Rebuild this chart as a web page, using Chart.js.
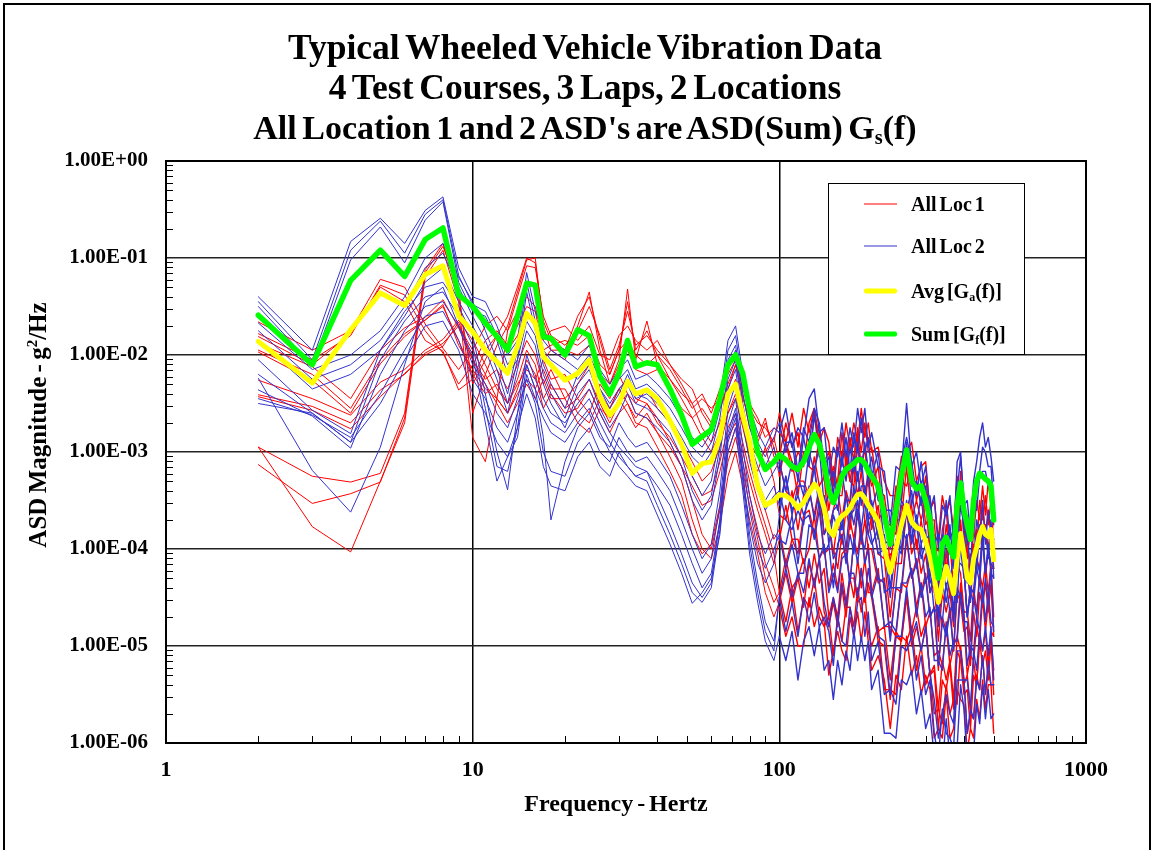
<!DOCTYPE html>
<html lang="en">
<head>
<meta charset="UTF-8">
<title>Typical Wheeled Vehicle Vibration Data</title>
<style>
    body {
        margin: 0;
        background: #fff;
        font-family: "Liberation Serif", "Times New Roman", serif;
        color: #000;
    }
    #wrap {
        position: relative;
        width: 1154px;
        height: 850px;
        overflow: hidden;
    }
    #frame {
        position: absolute;
        left: 3px;
        top: 3px;
        width: 1144px;
        height: 900px;
        border: 2px solid #000;
    }
    canvas {
        position: absolute;
        left: 0;
        top: 0;
    }
    .title {
        position: absolute;
        left: 0;
        top: 27px;
        width: 1170px;
        text-align: center;
        font-weight: bold;
        font-size: 35.5px;
        line-height: 40px;
        word-spacing: -3px;
    }
    .title .l3 { font-size: 34px; }
    .title sub, .legend sub {
        font-size: 60%;
        vertical-align: -0.25em;
    }
    .ytitle {
        position: absolute;
        left: 38px;
        top: 425px;
        transform: translate(-50%, -50%) rotate(-90deg);
        white-space: nowrap;
        font-weight: bold;
        font-size: 25px;
        word-spacing: -2px;
    }
    .ytitle sup {
        font-size: 60%;
        vertical-align: 0.6em;
        line-height: 0;
    }
    .xtitle {
        position: absolute;
        left: 616px;
        top: 803px;
        transform: translate(-50%, -50%);
        white-space: nowrap;
        font-weight: bold;
        font-size: 24px;
        word-spacing: -2px;
    }
    .legend {
        position: absolute;
        left: 828px;
        top: 183px;
        width: 195px;
        height: 170px;
        border: 1.5px solid #000;
        background: #fff;
    }
    .legend .row {
        position: absolute;
        left: 0;
        width: 195px;
        height: 24px;
    }
    .legend .swatch {
        position: absolute;
        left: 35px;
        width: 33px;
        top: 50%;
        transform: translateY(-50%);
    }
    .legend .label {
        position: absolute;
        left: 82px;
        top: 0;
        line-height: 24px;
        font-weight: bold;
        font-size: 20px;
        white-space: nowrap;
        word-spacing: -2px;
    }
</style>
</head>
<body>
<div id="wrap">
    <canvas id="asdChart" width="1154" height="850"></canvas>
    <div id="frame"></div>
    <div class="title">
        Typical Wheeled Vehicle Vibration Data<br>
        4 Test Courses, 3 Laps, 2 Locations<br>
        <span class="l3">All Location 1 and 2 ASD's are ASD(Sum) G<sub>s</sub>(f)</span>
    </div>
    <div class="ytitle">ASD Magnitude - g<sup>2</sup>/Hz</div>
    <div class="xtitle">Frequency - Hertz</div>
    <div class="legend">
        <div class="row" style="top:8px"><span class="swatch" style="height:1px;background:#ff0000"></span><span class="label">All Loc 1</span></div>
        <div class="row" style="top:50px"><span class="swatch" style="height:1px;background:#3333cc"></span><span class="label">All Loc 2</span></div>
        <div class="row" style="top:95px"><span class="swatch" style="height:5px;background:#ffff00;border-radius:2px"></span><span class="label">Avg [G<sub>a</sub>(f)]</span></div>
        <div class="row" style="top:138px"><span class="swatch" style="height:5px;background:#00ff00;border-radius:2px"></span><span class="label">Sum [G<sub>f</sub>(f)]</span></div>
    </div>
</div>

<script src="https://cdn.jsdelivr.net/npm/chart.js"></script>
<script>
// frequency lines (Hz): 40 lines up to 96 Hz, then 51 lines from 100 to 500 Hz
const freqLow = [2,3,4,5,6,7,8,9,10, 11,12,13,14,15,16,17,18, 20,22,24,26,28,30,32,34,
    37,40,44,48,52,56,60,64,68, 72,76,80,85,90,96];
const freqHigh = [100,105,110,115,120,125,130,135,140,145,150,155,160,165,170,175,180,185,190,195,
    200,210,220,230,240,250,260,270,280,290,300,310,320,330,340,350,360,370,380,390,
    400,410,420,430,440,450,460,470,480,490,500];
const freqHz = freqLow.concat(freqHigh);

const xTicks = [1, 10, 100, 1000];
const yTicks = [1e-6, 1e-5, 1e-4, 1e-3, 1e-2, 1e-1, 1];

// values are log10 of ASD (g^2/Hz); each lap = [low part, high part]
// Location 1, 4 courses x 3 laps
const loc1CourseA = [
    [[-2.95,-3.25,-3.31,-3.22,-2.60,-1.12,-0.85,-1.40,-2.30, -2.05,-1.80,-1.60,-1.30,-1.00,-1.05,-1.65,-1.85, -1.95,-1.60,-1.40,-1.85,-2.20,-1.95,-1.45,-1.95,
      -1.75,-2.00,-2.15,-2.35,-2.55,-2.45,-2.55,-2.45,-2.20, -2.05,-2.35,-2.55,-2.70,-2.75,-2.90],
     [-2.60,-2.90,-2.60,-2.95,-2.55,-2.80,-2.55,-2.90,-2.75,-2.90,-3.30,-2.85,-3.05,-2.70,-2.95,-2.70,-2.90,-2.55,-2.85,-2.70,
      -3.00,-2.95,-3.30,-3.45,-3.45,-3.05,-3.00,-2.90,-3.30,-3.15,-3.10,-3.60,-3.50,-3.90,-3.45,-3.65,-3.50,-3.80,-3.25,-3.40,
      -3.60,-4.10,-3.80,-3.85,-3.50,-3.70,-3.35,-3.65,-3.30,-3.55,-3.70]],
    [[-3.13,-3.53,-3.43,-3.31,-2.65,-1.15,-0.88,-1.30,-2.60, -2.20,-1.90,-1.70,-1.35,-1.02,-1.00,-1.70,-1.95, -2.05,-1.70,-1.35,-1.95,-2.30,-2.05,-1.32,-2.05,
      -1.65,-2.10,-2.25,-2.45,-2.65,-2.55,-2.70,-2.55,-2.30, -2.10,-2.45,-2.65,-2.85,-2.65,-3.05],
     [-3.05,-2.70,-2.95,-2.80,-3.15,-2.70,-2.55,-2.95,-3.10,-3.00,-3.35,-3.30,-2.80,-3.15,-2.85,-3.10,-2.75,-3.00,-2.70,-3.00,
      -2.95,-3.40,-3.45,-3.90,-3.35,-3.50,-2.95,-3.35,-3.30,-3.55,-3.25,-3.70,-3.70,-4.30,-3.80,-3.60,-4.05,-3.90,-3.80,-3.20,
      -3.95,-3.90,-4.30,-3.80,-4.00,-3.50,-3.70,-3.45,-3.75,-3.50,-3.95]],
    [[-2.95,-3.77,-4.03,-3.30,-2.70,-1.20,-0.92,-1.45,-2.85, -3.10,-2.45,-1.75,-1.40,-1.08,-1.10,-1.60,-1.80, -1.90,-1.75,-1.50,-1.80,-2.15,-1.90,-1.55,-1.90,
      -1.80,-1.95,-2.10,-2.30,-2.50,-2.40,-2.60,-2.35,-2.15, -2.00,-2.30,-2.50,-2.65,-2.85,-2.75],
     [-2.80,-2.90,-3.20,-3.00,-3.10,-3.05,-2.65,-2.80,-3.30,-3.35,-3.15,-3.35,-3.05,-3.00,-3.30,-3.05,-2.80,-3.15,-2.95,-3.20,
      -3.35,-3.15,-3.75,-3.75,-3.85,-3.30,-3.35,-3.15,-3.50,-3.30,-3.75,-3.65,-4.05,-4.00,-4.15,-3.75,-4.05,-3.95,-3.95,-3.40,
      -3.80,-4.30,-4.05,-4.15,-3.80,-3.95,-3.55,-3.85,-3.60,-3.85,-3.90]]
];
const loc1CourseB = [
    [[-1.66,-1.95,-1.75,-1.22,-1.30,-1.68,-1.93,-2.15,-1.95, -1.70,-1.60,-1.75,-1.55,-1.40,-1.50,-1.85,-1.75, -1.70,-1.85,-1.70,-2.00,-2.05,-1.80,-1.70,-1.85,
      -1.95,-1.85,-2.10,-2.25,-2.35,-2.60,-2.75,-2.55,-2.35, -2.10,-2.40,-2.75,-2.90,-2.70,-2.95],
     [-3.25,-2.90,-3.10,-3.45,-3.00,-3.15,-3.20,-2.85,-3.15,-3.60,-3.30,-3.45,-3.45,-3.05,-3.30,-3.35,-2.95,-3.20,-2.95,-3.35,
      -3.25,-3.70,-3.60,-4.15,-3.70,-3.70,-3.15,-3.70,-3.50,-3.70,-3.50,-4.05,-3.95,-4.45,-3.95,-4.20,-3.95,-4.40,-3.80,-3.75,
      -4.25,-4.20,-4.50,-3.95,-4.15,-3.75,-4.00,-3.75,-4.00,-3.75,-4.20]],
    [[-1.78,-2.05,-1.80,-1.28,-1.38,-1.75,-1.98,-2.30,-2.10, -1.85,-1.75,-1.90,-1.70,-1.50,-1.55,-1.95,-1.90, -1.85,-1.90,-1.80,-2.10,-2.20,-1.95,-1.85,-2.00,
      -2.10,-2.00,-2.25,-2.40,-2.50,-2.75,-2.90,-2.70,-2.45, -2.25,-2.55,-2.90,-3.05,-3.00,-2.85],
     [-3.10,-3.40,-3.50,-3.30,-3.30,-3.45,-3.05,-3.35,-3.25,-3.80,-3.60,-3.40,-3.70,-3.40,-3.55,-3.15,-3.45,-3.20,-3.55,-3.25,
      -3.80,-3.55,-4.10,-4.05,-4.15,-3.55,-3.65,-3.55,-4.00,-3.70,-4.00,-3.90,-4.45,-4.40,-4.45,-4.00,-4.50,-4.30,-4.20,-3.70,
      -4.20,-4.70,-4.40,-4.45,-4.10,-4.20,-3.85,-4.30,-4.00,-4.20,-4.20]],
    [[-1.81,-2.10,-1.78,-1.30,-1.45,-1.85,-1.96,-2.36,-2.25, -1.95,-1.80,-1.95,-1.80,-1.60,-1.70,-2.05,-1.95, -1.95,-2.00,-1.90,-2.20,-2.30,-2.10,-1.95,-2.15,
      -2.20,-2.15,-2.35,-2.55,-2.65,-2.85,-3.00,-2.80,-2.60, -2.40,-2.70,-3.00,-3.20,-2.95,-3.30],
     [-3.65,-3.70,-3.40,-3.80,-3.45,-3.40,-3.65,-3.35,-3.85,-3.70,-4.05,-3.70,-3.95,-3.60,-3.80,-3.40,-3.70,-3.40,-3.70,-3.85,
      -3.65,-4.05,-4.10,-4.70,-4.15,-4.15,-3.60,-4.05,-3.90,-4.25,-4.05,-4.45,-4.35,-4.95,-4.45,-4.65,-4.45,-4.80,-4.15,-4.25,
      -4.65,-4.65,-4.95,-4.40,-4.65,-4.25,-4.40,-4.15,-4.45,-4.15,-4.70]]
];
const loc1CourseC = [
    [[-1.88,-2.12,-2.45,-1.95,-1.72,-1.61,-1.43,-1.72,-2.05, -2.25,-2.15,-2.35,-2.10,-1.85,-2.00,-2.30,-2.15, -2.45,-2.30,-2.10,-2.40,-2.55,-2.35,-2.25,-2.45,
      -2.50,-2.65,-2.90,-3.15,-3.50,-3.85,-4.00,-3.60,-3.10, -2.85,-3.20,-3.55,-3.90,-4.30,-4.55],
     [-4.45,-4.75,-4.40,-4.85,-4.50,-4.60,-4.30,-4.70,-4.80,-4.70,-5.10,-4.70,-4.95,-4.60,-4.60,-4.80,-4.40,-4.65,-4.45,-4.85,
      -5.00,-4.80,-5.45,-5.45,-5.50,-4.90,-4.95,-4.80,-5.25,-5.00,-5.40,-5.25,-5.70,-5.65,-5.80,-5.40,-5.70,-5.55,-5.60,-5.00,
      -5.35,-5.90,-5.70,-5.75,-5.30,-5.45,-5.10,-5.50,-5.25,-5.40,-5.40]],
    [[-1.95,-2.20,-2.55,-2.05,-1.78,-1.64,-1.50,-1.85,-2.20, -2.40,-2.30,-2.50,-2.25,-1.95,-2.10,-2.45,-2.30, -2.55,-2.45,-2.25,-2.50,-2.70,-2.50,-2.40,-2.60,
      -2.65,-2.80,-3.05,-3.30,-3.70,-4.00,-4.10,-3.75,-3.25, -3.00,-3.35,-3.70,-4.05,-4.45,-4.70],
     [-4.55,-4.25,-4.55,-4.30,-4.60,-4.15,-4.35,-4.10,-4.65,-4.80,-4.55,-4.80,-4.40,-4.70,-4.30,-4.30,-4.55,-4.20,-4.55,-4.35,
      -4.50,-4.95,-5.00,-5.55,-4.90,-4.95,-4.50,-5.00,-4.80,-5.05,-4.80,-5.30,-5.25,-5.85,-5.35,-5.45,-5.20,-5.65,-5.05,-5.15,
      -5.50,-5.45,-5.85,-5.30,-5.40,-4.95,-5.20,-5.05,-5.35,-4.95,-5.50]],
    [[-1.97,-2.26,-2.60,-2.09,-1.81,-1.64,-1.48,-1.90,-2.15, -2.35,-2.45,-2.60,-2.35,-2.05,-2.20,-2.55,-2.40, -2.60,-2.55,-2.35,-2.60,-2.80,-2.60,-2.50,-2.70,
      -2.75,-2.95,-3.20,-3.45,-3.85,-4.05,-3.95,-3.55,-3.00, -2.75,-3.10,-3.45,-3.80,-4.15,-4.40],
     [-4.60,-4.90,-4.70,-5.00,-5.00,-4.50,-4.80,-4.60,-4.75,-5.30,-5.05,-4.85,-5.05,-5.15,-4.70,-4.90,-4.65,-4.95,-4.65,-4.95,
      -5.25,-5.10,-5.35,-5.85,-5.30,-5.45,-4.90,-5.30,-5.10,-5.50,-5.30,-5.45,-5.95,-5.85,-5.95,-5.50,-5.95,-5.85,-5.45,-5.55,
      -5.60,-6.10,-5.85,-5.95,-5.55,-5.75,-5.35,-5.65,-5.40,-5.40,-5.90]]
];
const loc1CourseD = [
    [[-2.26,-2.45,-2.62,-2.28,-2.15,-1.95,-1.84,-1.64,-1.85, -2.10,-2.35,-2.50,-2.30,-2.15,-2.25,-2.05,-2.25, -2.20,-2.45,-2.60,-2.30,-2.45,-2.20,-2.40,-2.50,
      -2.35,-2.55,-2.70,-2.90,-3.10,-3.30,-3.20,-2.95,-2.60, -2.45,-2.75,-3.05,-3.35,-3.60,-3.90],
     [-3.80,-4.15,-3.90,-3.90,-4.15,-4.00,-3.65,-4.10,-4.00,-4.40,-4.15,-4.40,-4.05,-4.00,-4.35,-3.90,-4.05,-3.75,-4.15,-3.95,
      -4.45,-4.20,-4.80,-4.80,-4.90,-4.35,-4.40,-4.20,-4.60,-4.35,-4.80,-4.65,-5.10,-5.05,-5.20,-4.80,-5.20,-5.00,-4.90,-4.35,
      -4.75,-5.30,-5.10,-5.15,-4.80,-4.95,-4.50,-4.85,-4.55,-4.85,-4.90]],
    [[-2.41,-2.53,-2.70,-2.36,-2.20,-1.98,-1.88,-1.70,-1.95, -2.20,-2.45,-2.60,-2.40,-2.25,-2.35,-2.15,-2.35, -2.35,-2.60,-2.70,-2.45,-2.55,-2.35,-2.50,-2.65,
      -2.50,-2.70,-2.85,-3.05,-3.25,-3.45,-3.40,-3.10,-2.75, -2.60,-2.90,-3.20,-3.50,-3.75,-4.05],
     [-4.45,-4.10,-4.40,-4.30,-4.10,-4.40,-4.05,-4.35,-4.20,-4.70,-4.50,-4.70,-4.25,-4.55,-4.30,-4.50,-4.10,-4.40,-4.10,-4.45,
      -4.45,-4.85,-4.80,-5.35,-4.85,-4.95,-4.45,-4.85,-4.60,-4.90,-4.75,-5.30,-5.20,-5.65,-5.15,-5.35,-5.15,-5.55,-4.90,-5.05,
      -5.40,-5.30,-5.65,-5.15,-5.40,-4.90,-5.05,-4.85,-5.20,-4.90,-5.25]],
    [[-2.43,-2.57,-2.76,-2.43,-2.19,-2.00,-1.91,-1.66,-2.05, -2.30,-2.50,-2.70,-2.50,-2.30,-2.45,-2.25,-2.45, -2.45,-2.70,-2.80,-2.55,-2.65,-2.45,-2.60,-2.75,
      -2.60,-2.80,-2.95,-3.15,-3.35,-3.55,-3.50,-3.20,-2.85, -2.70,-3.00,-3.30,-3.60,-3.85,-4.15],
     [-3.90,-3.55,-3.90,-4.05,-3.65,-3.60,-3.85,-3.50,-4.05,-4.00,-4.00,-4.20,-3.85,-4.10,-3.70,-3.90,-3.60,-3.95,-3.70,-4.00,
      -4.00,-4.35,-4.30,-4.90,-4.40,-4.45,-3.90,-4.30,-4.10,-4.45,-4.25,-4.70,-4.60,-5.25,-4.70,-4.85,-4.60,-5.05,-4.45,-4.55,
      -4.85,-4.80,-5.20,-4.65,-4.90,-4.45,-4.60,-4.35,-4.65,-4.35,-4.90]]
];

// Location 2, 4 courses x 3 laps
const loc2CourseA = [
    [[-1.40,-1.95,-0.83,-0.59,-0.85,-0.51,-0.37,-1.10,-1.40, -1.45,-1.70,-2.00,-1.85,-1.15,-1.55,-1.75,-1.85, -1.95,-2.05,-1.90,-2.15,-2.30,-2.15,-2.05,-2.25,
      -2.20,-2.30,-2.45,-2.65,-2.85,-2.95,-2.80,-2.45,-1.85, -1.70,-2.20,-2.55,-2.80,-2.95,-2.75],
     [-2.80,-2.55,-2.95,-2.75,-2.85,-2.45,-2.35,-2.80,-2.75,-3.25,-2.95,-3.05,-2.70,-3.05,-2.75,-2.95,-2.55,-2.80,-2.55,-2.95,
      -2.80,-3.15,-3.20,-3.75,-3.15,-3.20,-2.50,-3.15,-3.00,-3.35,-3.15,-3.60,-3.45,-4.00,-3.55,-3.65,-3.45,-3.95,-3.10,-3.00,
      -3.55,-3.50,-3.85,-3.30,-3.10,-2.85,-2.70,-2.95,-2.85,-3.05,-3.30]],
    [[-1.45,-2.05,-0.92,-0.62,-0.95,-0.55,-0.40,-1.18,-1.48, -1.55,-1.80,-2.10,-1.95,-1.25,-1.65,-1.85,-1.95, -2.05,-2.15,-2.00,-2.25,-2.40,-2.25,-2.15,-2.35,
      -2.30,-2.40,-2.55,-2.75,-2.95,-3.05,-2.90,-2.55,-1.95, -1.80,-2.30,-2.65,-2.90,-3.05,-2.85],
     [-2.70,-3.00,-2.80,-3.20,-2.75,-2.90,-2.55,-2.70,-3.15,-3.05,-3.45,-2.95,-3.15,-2.85,-3.20,-2.80,-3.00,-2.65,-3.00,-2.85,
      -3.25,-3.00,-3.60,-3.60,-3.70,-3.10,-2.85,-3.10,-3.45,-3.10,-3.50,-3.45,-3.95,-3.85,-3.95,-3.50,-3.90,-3.80,-3.40,-3.05,
      -3.50,-3.95,-3.75,-3.80,-3.35,-3.20,-2.95,-3.00,-3.15,-3.15,-3.55]],
    [[-1.50,-2.10,-1.02,-0.68,-1.05,-0.61,-0.42,-1.25,-1.55, -1.60,-1.85,-2.20,-2.05,-1.35,-1.75,-1.95,-2.05, -2.15,-2.25,-2.10,-2.35,-2.50,-2.35,-2.25,-2.45,
      -2.40,-2.50,-2.65,-2.85,-3.05,-3.15,-3.00,-2.65,-2.05, -1.90,-2.40,-2.75,-3.00,-3.15,-2.95],
     [-3.20,-2.90,-2.90,-3.30,-2.85,-3.15,-2.60,-3.05,-3.05,-3.45,-3.20,-3.45,-3.05,-3.30,-2.95,-3.20,-2.90,-3.20,-2.90,-3.20,
      -3.05,-3.50,-3.55,-4.00,-3.45,-3.50,-2.90,-3.55,-3.30,-3.55,-3.35,-3.90,-3.85,-4.40,-3.85,-3.95,-3.75,-4.20,-3.50,-3.35,
      -3.85,-3.85,-4.20,-3.60,-3.60,-3.25,-3.20,-3.20,-3.35,-3.40,-3.75]]
];
const loc2CourseB = [
    [[-1.67,-2.15,-2.00,-1.75,-1.40,-1.00,-0.85,-1.20,-1.45, -1.75,-2.05,-2.40,-1.95,-1.55,-1.70,-2.10,-2.30, -2.55,-2.20,-2.05,-2.35,-2.55,-2.40,-2.20,-2.40,
      -2.45,-2.55,-2.70,-2.95,-3.25,-3.45,-3.30,-2.85,-2.15, -1.95,-2.50,-2.90,-3.15,-3.35,-3.20],
     [-3.10,-3.40,-3.10,-3.25,-3.45,-3.00,-3.20,-2.95,-3.55,-3.45,-3.45,-3.60,-3.20,-3.50,-3.50,-3.05,-3.30,-3.05,-3.45,-3.20,
      -3.60,-3.35,-3.95,-3.90,-4.00,-3.50,-3.60,-3.40,-3.75,-3.45,-3.90,-3.85,-4.35,-4.25,-4.30,-3.85,-4.30,-4.10,-4.05,-3.55,
      -3.75,-4.35,-4.15,-4.15,-3.70,-3.85,-3.50,-3.95,-3.60,-3.80,-3.90]],
    [[-1.75,-2.25,-2.10,-1.85,-1.50,-1.10,-0.95,-1.30,-1.60, -1.85,-2.15,-2.50,-2.05,-1.65,-1.80,-2.20,-2.40, -2.65,-2.30,-2.15,-2.45,-2.65,-2.50,-2.30,-2.50,
      -2.55,-2.65,-2.80,-3.05,-3.40,-3.60,-3.45,-2.95,-2.25, -2.05,-2.60,-3.00,-3.30,-3.50,-3.35],
     [-3.55,-3.25,-3.65,-3.35,-3.35,-3.50,-3.15,-3.55,-3.45,-3.85,-3.60,-3.55,-3.80,-3.45,-3.65,-3.60,-3.20,-3.55,-3.35,-3.70,
      -3.50,-3.90,-3.85,-4.40,-3.90,-4.00,-3.50,-3.90,-3.65,-3.95,-3.80,-4.35,-4.25,-4.70,-4.20,-4.40,-4.25,-4.65,-3.95,-4.00,
      -4.30,-4.20,-4.55,-4.05,-4.25,-3.75,-3.95,-3.80,-4.10,-3.70,-4.30]],
    [[-1.85,-2.35,-2.20,-1.95,-1.60,-1.25,-1.10,-1.45,-1.70, -1.95,-2.25,-2.60,-2.15,-1.75,-1.90,-2.30,-2.50, -2.75,-2.40,-2.25,-2.55,-2.75,-2.60,-2.40,-2.60,
      -2.65,-2.75,-2.90,-3.15,-3.50,-3.70,-3.55,-3.05,-2.35, -2.15,-2.70,-3.10,-3.40,-3.60,-3.45],
     [-3.40,-3.70,-3.80,-3.60,-3.75,-3.35,-3.70,-3.40,-3.85,-3.75,-4.10,-4.00,-3.65,-4.00,-3.55,-3.75,-3.50,-3.80,-3.50,-3.85,
      -3.95,-3.80,-4.45,-4.40,-4.40,-3.80,-3.90,-3.75,-4.20,-3.95,-4.35,-4.20,-4.65,-4.60,-4.75,-4.35,-4.65,-4.55,-4.55,-3.90,
      -4.20,-4.70,-4.45,-4.55,-4.20,-4.35,-3.90,-4.25,-3.95,-4.25,-4.30]]
];
const loc2CourseC = [
    [[-2.05,-2.57,-2.81,-1.95,-1.55,-1.30,-1.25,-1.50,-1.80, -2.40,-3.00,-3.39,-2.60,-2.00,-2.25,-2.45,-2.60, -2.70,-2.50,-2.35,-2.60,-2.80,-2.95,-3.05,-3.15,
      -3.20,-3.45,-3.75,-4.05,-4.35,-4.50,-4.35,-3.70,-2.80, -2.55,-3.20,-3.85,-4.35,-4.75,-4.95],
     [-4.50,-4.85,-4.55,-4.90,-4.50,-4.75,-4.45,-4.80,-4.70,-4.85,-5.20,-4.70,-4.95,-5.00,-4.60,-4.90,-4.55,-4.50,-4.90,-4.65,
      -5.15,-4.95,-5.50,-5.45,-5.60,-5.00,-5.05,-4.90,-5.35,-5.10,-5.50,-5.35,-5.90,-6.15,-5.65,-5.90,-5.95,-6.05,-5.35,-5.35,
      -5.35,-5.90,-5.65,-5.75,-5.35,-5.45,-5.10,-5.50,-5.15,-5.40,-5.40]],
    [[-2.20,-2.60,-2.90,-2.05,-1.65,-1.40,-1.35,-1.60,-1.90, -2.55,-3.15,-3.20,-2.75,-2.10,-2.35,-2.55,-2.70, -2.80,-2.60,-2.45,-2.70,-2.90,-3.05,-3.15,-3.25,
      -3.30,-3.55,-3.85,-4.15,-4.45,-4.55,-4.40,-3.80,-2.90, -2.65,-3.30,-3.95,-4.45,-4.85,-5.05],
     [-4.50,-4.20,-4.50,-4.25,-4.45,-4.10,-4.40,-4.10,-4.55,-4.80,-4.50,-4.75,-4.35,-4.60,-4.25,-4.25,-4.50,-4.20,-4.50,-4.20,
      -4.45,-4.90,-4.95,-5.50,-4.90,-4.90,-4.40,-4.90,-4.75,-5.05,-4.80,-5.30,-5.55,-5.95,-5.70,-5.50,-5.70,-5.80,-5.05,-5.05,
      -5.35,-5.35,-5.65,-5.05,-5.25,-4.85,-5.05,-4.80,-5.10,-4.80,-5.35]],
    [[-2.36,-2.63,-2.96,-2.20,-1.75,-1.50,-1.45,-1.70,-2.00, -2.70,-3.30,-3.05,-2.85,-2.20,-2.45,-2.65,-2.80, -2.90,-2.70,-2.55,-2.80,-3.00,-3.15,-3.25,-3.35,
      -3.40,-3.65,-3.95,-4.25,-4.56,-4.45,-4.30,-3.85,-3.00, -2.75,-3.40,-4.05,-4.55,-4.95,-5.15],
     [-4.90,-5.15,-4.85,-5.35,-4.95,-4.80,-5.10,-4.80,-5.25,-5.15,-5.55,-5.15,-5.40,-5.05,-5.25,-4.85,-5.15,-4.90,-5.15,-4.95,
      -5.45,-5.25,-5.90,-5.90,-5.95,-5.35,-5.40,-5.25,-5.70,-5.45,-5.85,-5.70,-6.15,-6.10,-6.25,-5.75,-6.15,-6.05,-6.05,-5.40,
      -5.65,-6.20,-6.00,-6.10,-5.60,-5.80,-5.40,-5.75,-5.45,-5.75,-5.70]]
];
const loc2CourseD = [
    [[-2.24,-3.19,-3.62,-2.95,-2.10,-1.45,-1.30,-1.70,-2.10, -2.30,-2.60,-2.75,-2.45,-2.10,-2.35,-2.85,-3.70, -3.10,-2.75,-2.60,-2.85,-2.95,-2.70,-2.85,-2.95,
      -2.90,-3.05,-3.25,-3.55,-3.85,-4.10,-3.95,-3.40,-2.55, -2.30,-2.95,-3.45,-3.85,-4.05,-3.85],
     [-3.90,-3.95,-3.65,-4.15,-3.70,-3.65,-3.90,-3.60,-4.05,-3.95,-4.40,-3.95,-3.85,-4.15,-3.85,-4.05,-3.60,-3.90,-4.00,-3.70,
      -3.90,-4.30,-4.35,-4.95,-4.40,-4.40,-3.85,-4.30,-4.15,-4.50,-4.30,-4.70,-4.60,-5.20,-4.75,-4.90,-4.65,-5.05,-4.40,-4.50,
      -4.75,-4.75,-5.10,-4.50,-4.70,-4.30,-4.55,-4.30,-4.55,-4.20,-4.85]],
    [[-2.45,-2.62,-2.85,-2.40,-1.95,-1.60,-1.55,-1.85,-2.25, -2.45,-2.75,-2.90,-2.60,-2.25,-2.50,-3.00,-3.20, -3.25,-2.90,-2.75,-3.00,-3.10,-2.85,-3.00,-3.10,
      -3.05,-3.20,-3.40,-3.70,-4.00,-4.25,-4.10,-3.55,-2.70, -2.45,-3.10,-3.60,-4.00,-4.20,-4.00],
     [-3.85,-4.20,-3.95,-4.25,-4.25,-3.75,-3.80,-4.10,-3.95,-4.45,-4.25,-4.45,-4.10,-4.05,-4.35,-3.90,-4.15,-3.80,-4.15,-4.00,
      -4.50,-4.25,-4.80,-4.75,-4.85,-4.35,-4.35,-4.20,-4.70,-4.35,-4.70,-4.60,-5.15,-5.15,-5.25,-4.75,-5.10,-4.95,-4.95,-4.45,
      -4.65,-5.20,-5.00,-5.05,-4.70,-4.85,-4.40,-4.75,-4.45,-4.75,-4.80]],
    [[-2.50,-2.60,-2.90,-2.50,-2.05,-1.70,-1.65,-1.95,-2.40, -2.60,-2.90,-3.05,-2.75,-2.40,-2.65,-3.15,-3.35, -3.40,-3.05,-2.90,-3.15,-3.25,-3.00,-3.15,-3.25,
      -3.20,-3.35,-3.55,-3.85,-4.15,-4.40,-4.25,-3.70,-2.85, -2.60,-3.25,-3.75,-4.15,-4.35,-4.15],
     [-3.65,-3.25,-3.60,-3.45,-3.65,-3.50,-3.15,-3.60,-3.45,-3.95,-3.65,-3.80,-3.80,-3.45,-3.70,-3.35,-3.65,-3.35,-3.35,-3.70,
      -3.65,-4.05,-4.00,-4.50,-3.95,-4.05,-3.60,-3.95,-3.75,-4.10,-3.95,-4.45,-4.25,-4.80,-4.35,-4.55,-4.30,-4.75,-4.15,-4.15,
      -4.20,-4.70,-4.40,-4.45,-4.10,-4.25,-3.80,-4.25,-4.00,-4.15,-4.20]]
];

// Avg [Ga(f)] and Sum [Gf(f)], log10
const avgGaLow = [-1.86,-2.29,-1.74,-1.36,-1.49,-1.17,-1.08,-1.60,-1.76, -1.95,-2.07,-2.19,-1.91,-1.57,-1.67,-2.02,-2.10, -2.26,-2.19,-2.05,-2.43,-2.62,-2.50,-2.27,-2.40,
    -2.36,-2.45,-2.68,-2.92,-3.22,-3.12,-3.10,-2.85,-2.40, -2.30,-2.62,-2.90,-3.35,-3.55,-3.50];
const avgGaHigh = [-3.44,-3.45,-3.50,-3.58,-3.52,-3.42,-3.33,-3.40,-3.58,-3.80,-3.86,-3.72,-3.66,-3.63,-3.58,-3.50,-3.44,-3.43,-3.48,-3.55,
    -3.60,-3.72,-4.00,-4.24,-4.00,-3.75,-3.55,-3.72,-3.78,-3.80,-3.92,-4.08,-4.30,-4.55,-4.35,-4.18,-4.30,-4.46,-4.10,-3.84,
    -4.05,-4.30,-4.35,-4.10,-3.98,-3.85,-3.77,-3.85,-3.87,-3.80,-4.11];
const sumGfLow = [-1.59,-2.10,-1.23,-0.92,-1.19,-0.81,-0.69,-1.38,-1.50, -1.67,-1.81,-1.95,-1.60,-1.26,-1.28,-1.81,-1.83, -2.00,-1.74,-1.80,-2.22,-2.40,-2.19,-1.85,-2.12,
    -2.08,-2.10,-2.35,-2.62,-2.92,-2.84,-2.77,-2.45,-2.10, -2.00,-2.19,-2.57,-3.00,-3.18,-3.10];
const sumGfHigh = [-3.03,-3.08,-3.15,-3.18,-3.10,-2.95,-2.82,-2.92,-3.12,-3.40,-3.52,-3.40,-3.25,-3.18,-3.15,-3.12,-3.08,-3.08,-3.12,-3.20,
    -3.25,-3.35,-3.65,-3.95,-3.60,-3.25,-2.98,-3.30,-3.38,-3.35,-3.50,-3.70,-4.05,-4.30,-3.95,-3.88,-4.00,-4.08,-3.55,-3.32,
    -3.60,-3.75,-3.90,-3.50,-3.30,-3.22,-3.25,-3.28,-3.30,-3.35,-3.70];

function toPoints(low, high) {
    const logs = low.concat(high);
    return freqHz.map((f, i) => ({ x: f, y: Math.pow(10, logs[i]) }));
}

// thin run lines: a touch heavier above 100 Hz where the real data is dense
const runSegment = { borderWidth: (c) => (c.p0.parsed.x >= 100 ? 1.4 : 1) };

const datasets = [
    { data: toPoints(sumGfLow, sumGfHigh), borderColor: '#00ff00', borderWidth: 5.5, order: 0 },
    { data: toPoints(avgGaLow, avgGaHigh), borderColor: '#ffff00', borderWidth: 5, order: 1 }
];
[loc2CourseA, loc2CourseB, loc2CourseC, loc2CourseD].forEach(course => course.forEach(lap => {
    datasets.push({ data: toPoints(lap[0], lap[1]), borderColor: '#3333cc', borderWidth: 1, segment: runSegment, order: 2 });
}));
[loc1CourseA, loc1CourseB, loc1CourseC, loc1CourseD].forEach(course => course.forEach(lap => {
    datasets.push({ data: toPoints(lap[0], lap[1]), borderColor: '#ff0000', borderWidth: 1, segment: runSegment, order: 3 });
}));

function expLabel(v) {
    const e = Math.round(Math.log10(v));
    return '1.00E' + (e < 0 ? '-' : '+') + String(Math.abs(e)).padStart(2, '0');
}

// inward minor ticks + plot frame
const minorTicks = {
    id: 'minorTicks',
    afterDraw(chart) {
        const { ctx, chartArea: a, scales: { x, y } } = chart;
        ctx.save();
        ctx.strokeStyle = '#000';
        ctx.lineWidth = 1;
        ctx.beginPath();
        for (const d of [1, 10, 100]) {
            for (let k = 2; k <= 9; k++) {
                const px = Math.round(x.getPixelForValue(k * d)) + 0.5;
                ctx.moveTo(px, a.bottom);
                ctx.lineTo(px, a.bottom - 7);
            }
        }
        for (let e = -6; e < 0; e++) {
            for (let k = 2; k <= 9; k++) {
                const py = Math.round(y.getPixelForValue(k * Math.pow(10, e))) + 0.5;
                ctx.moveTo(a.left, py);
                ctx.lineTo(a.left + 7, py);
            }
        }
        ctx.stroke();
        ctx.lineWidth = 2;
        ctx.strokeRect(a.left, a.top, a.right - a.left, a.bottom - a.top);
        ctx.restore();
    }
};

new Chart(document.getElementById('asdChart'), {
    type: 'line',
    data: { datasets: datasets },
    options: {
        responsive: false,
        animation: false,
        events: [],
        layout: { padding: { top: 161, right: 68, left: 0, bottom: 0 } },
        elements: {
            point: { radius: 0 },
            line: { tension: 0, borderCapStyle: 'round', borderJoinStyle: 'round' }
        },
        plugins: { legend: { display: false }, tooltip: { enabled: false } },
        scales: {
            x: {
                type: 'logarithmic',
                min: 1,
                max: 1000,
                afterBuildTicks: (s) => { s.ticks = xTicks.map(v => ({ value: v })); },
                afterFit: (s) => { s.height = 107; },
                grid: { color: '#000', lineWidth: 1.5, drawTicks: false },
                border: { display: false },
                ticks: {
                    autoSkip: false,
                    maxRotation: 0,
                    padding: 14,
                    color: '#000',
                    font: { family: 'Liberation Serif', weight: 'bold', size: 22 },
                    callback: (v) => String(v)
                }
            },
            y: {
                type: 'logarithmic',
                min: 1e-6,
                max: 1,
                afterBuildTicks: (s) => { s.ticks = yTicks.map(v => ({ value: v })); },
                afterFit: (s) => { s.width = 166; },
                grid: { color: '#222', lineWidth: 1.5, drawTicks: false },
                border: { display: false },
                ticks: {
                    autoSkip: false,
                    padding: 18,
                    color: '#000',
                    font: { family: 'Liberation Serif', weight: 'bold', size: 21 },
                    callback: (v) => expLabel(v)
                }
            }
        }
    },
    plugins: [minorTicks]
});
</script>
</body>
</html>
